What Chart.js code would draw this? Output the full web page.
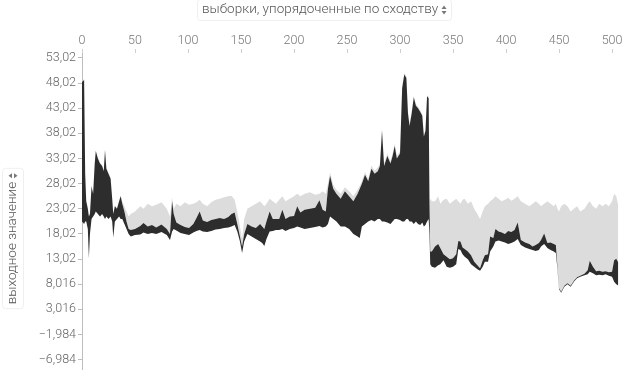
<!DOCTYPE html>
<html><head><meta charset="utf-8">
<script src="https://cdn.jsdelivr.net/npm/chart.js@4.4.1/dist/chart.umd.min.js"></script>
<style>html,body{margin:0;padding:0;background:#fff;}#wrap{width:626px;height:379px;position:relative;}</style>
</head><body><div id="wrap"><canvas id="c" width="626" height="379"></canvas></div>
<script>
// ---- data ----
const sampleIdx = [0,2,3,4,5.5,6.5,7.5,9,10.5,12,13,15,17,19,20.5,21.7,23,25,27,28.5,29.5,31,33,35,36.5,38,40,42,44,46,50,55,58,62,66,70,75,80,83,85,86.5,89,93,97,101,105,108,111,114,118,122,126,130,134,138,141,144,146.5,149,151,153,156,160,164,168,170,172,174,177,180,183,186,189,192,196,200,203,206,210,215,220,224,227,230,232,234,237,240,244,248,252,256,260,262,264,267,270,273,276,279,281,283,285,288,291,293,295,297,300,302,304,306,307.5,309,311,313,315,317,319,321,322.5,324,325.5,327,327.8,328.5,330,333,336,338,341,344,347,350,353,355,357,359,361,364,367,370,373,375.5,378,380,383,385,388,390,393,396,399,402,405,408,411,414,418,422,425,428,431,433,436,439,442,445,447,448.5,450,452,455,458,461,464,467,470,474,477,479,482,485,488,491,494,497,500,502,504,505.5,506];
const lowerVals = [20.5,20.0,20.5,20.5,19.0,13.2,18.0,21.0,21.5,22.0,22.5,22.0,21.5,22.0,21.5,21.0,21.5,21.0,21.5,20.5,17.3,20.5,21.0,21.5,21.0,21.0,20.0,19.0,18.0,17.5,17.8,17.9,18.3,18.0,18.2,18.0,18.4,17.8,16.8,18.5,19.0,18.7,18.2,18.0,17.8,18.3,18.6,18.8,18.5,18.4,18.6,18.9,19.0,19.2,19.3,19.5,19.8,18.5,16.5,14.2,16.5,18.0,17.5,17.0,16.5,16.2,15.6,17.0,18.5,18.6,18.8,18.8,19.0,18.6,19.0,19.2,19.5,19.3,19.0,19.2,19.4,19.6,19.3,19.5,20.0,21.5,21.0,20.5,19.5,19.5,19.0,18.0,17.5,17.2,19.5,20.0,20.5,20.8,20.5,21.0,21.0,20.5,20.5,20.3,20.0,20.5,21.0,21.0,20.8,20.5,20.5,21.0,21.0,20.5,20.5,20.0,20.5,20.0,19.8,20.3,19.5,19.8,20.5,21.0,18.0,12.0,11.5,11.3,11.8,12.0,12.8,11.5,11.3,11.5,12.0,15.0,14.8,14.0,13.5,13.0,12.0,11.5,11.0,10.7,11.5,12.5,12.5,14.5,15.5,16.5,16.7,16.5,16.3,16.0,16.2,16.5,17.0,15.8,15.3,15.0,14.8,14.6,14.8,15.5,16.0,15.2,14.8,14.5,14.2,11.0,7.0,6.3,7.5,8.0,7.5,8.5,9.2,9.5,9.8,10.0,10.5,10.2,9.8,9.9,9.8,10.0,9.7,9.5,8.5,8.0,7.8,7.8];
const outputVals = [48.2,48.6,30.0,24.5,23.0,21.5,22.0,27.5,26.0,32.0,34.5,33.0,32.0,31.5,30.5,34.7,31.0,30.0,29.0,25.0,22.0,23.5,23.0,24.5,25.5,24.0,22.5,20.5,19.0,18.8,19.0,19.6,20.2,19.5,19.8,19.3,19.9,19.0,18.0,24.5,22.0,20.3,19.8,19.4,19.2,20.0,21.2,22.5,20.7,20.4,20.8,21.0,21.2,21.0,21.4,22.0,22.3,20.0,17.5,15.5,18.0,20.0,19.5,19.2,20.0,19.5,19.0,20.5,22.5,21.0,21.0,21.0,22.8,21.0,21.5,21.6,23.5,22.3,22.8,23.0,23.2,24.7,22.8,22.5,27.0,29.6,27.0,26.0,25.0,26.5,25.5,24.5,26.0,27.0,28.0,29.8,28.5,31.0,30.0,30.5,31.5,38.6,31.5,33.5,32.0,33.5,35.5,33.0,34.0,47.0,49.7,49.0,42.0,39.5,42.0,45.2,43.5,43.0,42.3,41.5,37.4,38.5,45.4,45.0,24.0,14.5,14.5,15.5,16.0,15.2,14.0,13.5,13.0,13.2,14.0,16.6,16.5,15.3,15.0,14.5,13.8,12.5,11.8,11.2,12.8,13.8,14.0,17.5,17.2,19.0,18.5,18.3,18.0,18.6,18.4,18.8,20.3,16.8,16.3,16.0,15.5,15.8,16.2,16.8,18.1,16.2,16.3,16.0,15.8,11.5,7.2,6.5,7.7,8.2,7.7,8.7,9.4,9.7,10.1,10.8,12.7,11.5,10.6,10.7,10.5,10.6,10.4,10.5,12.8,13.1,12.5,12.5];
const upperVals = [48.4,48.8,30.2,24.7,23.2,21.7,22.2,27.7,26.2,32.2,34.7,33.2,32.2,31.7,30.7,34.9,31.2,30.2,29.2,25.2,22.2,23.7,23.2,24.7,25.7,24.5,23.5,22.5,21.5,22.0,22.5,23.5,23.0,24.0,23.5,23.8,24.3,23.0,21.5,25.3,23.0,24.0,23.5,24.3,23.8,24.0,24.3,24.8,24.0,23.5,24.3,24.8,25.0,25.3,25.5,25.6,24.8,22.5,19.5,17.0,21.0,23.0,23.5,24.0,24.5,24.0,23.5,24.0,25.0,24.5,24.0,24.8,25.5,24.5,25.0,25.5,26.0,25.5,26.0,26.3,25.8,26.0,26.5,26.0,28.0,30.3,27.8,26.8,26.0,27.3,26.5,25.5,26.8,27.6,28.6,30.3,29.0,31.6,30.6,31.2,32.0,39.0,32.0,34.0,32.5,34.0,36.0,33.5,34.5,47.3,50.0,49.3,42.3,40.0,42.4,45.5,43.8,43.3,42.6,41.8,37.8,38.8,45.6,45.3,24.5,25.0,24.5,24.5,25.5,24.0,24.8,25.0,24.0,24.5,25.0,24.5,24.0,24.8,25.0,24.0,24.5,23.0,22.0,21.0,22.5,23.5,24.0,24.5,25.0,25.5,25.0,24.5,24.8,25.2,24.6,25.0,25.5,24.5,24.0,23.5,24.0,24.5,24.0,23.5,24.0,24.5,24.0,23.5,24.0,23.0,22.5,23.5,24.0,23.5,22.5,23.0,23.5,22.5,23.0,24.0,24.5,23.5,23.0,24.0,23.5,24.0,23.5,24.5,26.0,25.5,24.0,24.0];
const xTickValues = [0,50,100,150,200,250,300,350,400,450,500];
const yTickValues = [53.016,48.016,43.016,38.016,33.016,28.016,23.016,18.016,13.016,8.016,3.016,-1.984,-6.984];
const yTickLabels = ['53,02','48,02','43,02','38,02','33,02','28,02','23,02','18,02','13,02','8,016','3,016','\u22121,984','\u22126,984'];
const xTitle = 'выборки, упорядоченные по сходству';
const yTitle = 'выходное значение';

const FONT = 'Roboto, "Liberation Sans", sans-serif';
const pts = vals => sampleIdx.map((s, i) => ({x: s, y: vals[i]}));

function drawUpDown(ctx, cx, cy, color) {
  ctx.save();
  ctx.fillStyle = color;
  ctx.beginPath(); ctx.moveTo(cx - 2.5, cy - 1); ctx.lineTo(cx + 2.5, cy - 1); ctx.lineTo(cx, cy - 4.5); ctx.closePath(); ctx.fill();
  ctx.beginPath(); ctx.moveTo(cx - 2.5, cy + 1); ctx.lineTo(cx + 2.5, cy + 1); ctx.lineTo(cx, cy + 4.5); ctx.closePath(); ctx.fill();
  ctx.restore();
}

const titlePlugin = {
  id: 'titles',
  afterDraw(chart) {
    const ctx = chart.ctx;
    ctx.save();
    ctx.font = '300 13.5px ' + FONT;
    ctx.fillStyle = '#555';
    ctx.textBaseline = 'middle';
    // x title
    const w = ctx.measureText(xTitle).width;
    const cx = 325, cy = 10;
    const x0 = cx - (w + 10) / 2;
    ctx.strokeStyle = '#efefef'; ctx.lineWidth = 1;
    ctx.beginPath(); ctx.roundRect(x0 - 4.5, -0.5, w + 18, 21, 3); ctx.stroke();
    ctx.textAlign = 'left';
    ctx.fillText(xTitle, x0, cy);
    drawUpDown(ctx, x0 + w + 6, cy, '#777');
    // y title
    const w2 = ctx.measureText(yTitle).width;
    ctx.translate(13, 238);
    ctx.rotate(-Math.PI / 2);
    const y0 = -(w2 + 10) / 2;
    ctx.beginPath(); ctx.roundRect(y0 - 4.5, -10.5, w2 + 18, 21, 3); ctx.stroke();
    ctx.fillText(yTitle, y0, 0);
    drawUpDown(ctx, y0 + w2 + 6, 0, '#777');
    ctx.restore();
  }
};

new Chart(document.getElementById('c'), {
  type: 'line',
  data: {
    datasets: [
      {data: pts(lowerVals), borderColor: 'rgba(0,0,0,0)', borderWidth: 0, pointRadius: 0, fill: false},
      {data: pts(outputVals), borderColor: 'rgba(0,0,0,0)', borderWidth: 0, pointRadius: 0, fill: '-1', backgroundColor: '#2d2d2d'},
      {data: pts(upperVals), borderColor: 'rgba(0,0,0,0)', borderWidth: 0, pointRadius: 0, fill: '-1', backgroundColor: '#dcdcdc'}
    ]
  },
  options: {
    responsive: false,
    devicePixelRatio: 1,
    animation: false,
    layout: {padding: {left: 0, right: 7.6, top: 28, bottom: 3}},
    plugins: {legend: {display: false}, tooltip: {enabled: false}},
    elements: {line: {tension: 0}},
    scales: {
      x: {
        type: 'linear', position: 'top', min: 0, max: 506,
        afterBuildTicks: s => { s.ticks = xTickValues.map(v => ({value: v})); },
        afterFit: s => { s.height = 25; },
        ticks: {color: '#777', font: {family: FONT, size: 12.5, weight: '300'}, padding: 1, maxRotation: 0, autoSkip: false},
        grid: {drawOnChartArea: false, drawTicks: true, tickLength: 4, color: '#cfcfcf'},
        border: {display: false}
      },
      y: {
        type: 'linear', position: 'left', min: -8.94, max: 53.99,
        afterBuildTicks: s => { s.ticks = yTickValues.map(v => ({value: v})); },
        afterFit: s => { s.width = 82; },
        ticks: {color: '#666', font: {family: FONT, size: 12.5, weight: '300'}, padding: 2, autoSkip: false,
          callback: (v, i) => yTickLabels[i]},
        grid: {drawOnChartArea: false, drawTicks: true, tickLength: 4, color: '#bdbdbd'},
        border: {display: true, color: '#bdbdbd'}
      }
    }
  },
  plugins: [titlePlugin]
});
</script>
</body></html>
